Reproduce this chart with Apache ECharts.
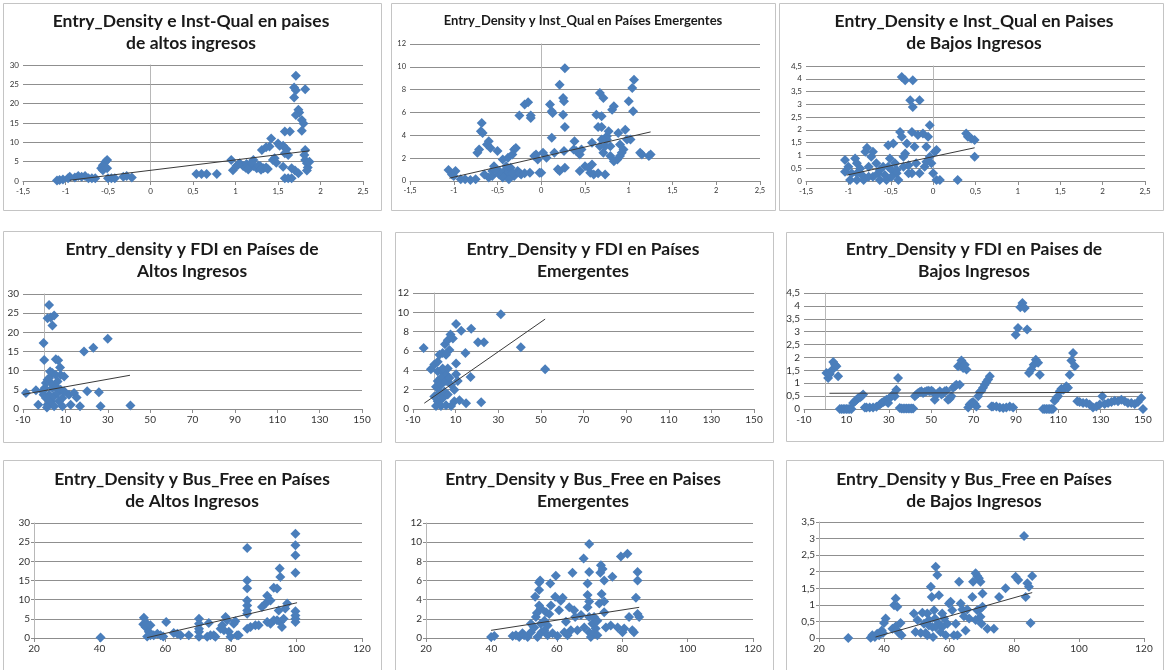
<!DOCTYPE html>
<html><head><meta charset="utf-8">
<script src="https://cdn.jsdelivr.net/npm/echarts@6/dist/echarts.min.js"></script>
<style>html,body{margin:0;padding:0;background:#fff}#c{width:1164px;height:670px}</style>
</head><body><div id="c"></div>
<script>
// ---------- DATA ----------
const titles = [
  'Entry_Density e Inst-Qual en paises\nde altos ingresos',
  'Entry_Density y Inst_Qual en Países Emergentes',
  'Entry_Density e Inst_Qual en Paises\nde Bajos Ingresos',
  'Entry_density y FDI en Países de\nAltos Ingresos',
  'Entry_Density y FDI en Países\nEmergentes',
  'Entry_Density y FDI en Paises de\nBajos Ingresos',
  'Entry_Density y Bus_Free en Países\nde Altos Ingresos',
  'Entry_Density y Bus_Free en Paises\nEmergentes',
  'Entry_Density y Bus_Free en Países\nde Bajos Ingresos'
];
const instQualXAxis = [-1.5, 2.5, 0.5];
const fdiXAxis = [-10, 150, 20];
const busFreeXAxis = [20, 120, 20];
const altosYAxis = [0, 30, 5];
const emergYAxis = [0, 12, 2];
const bajosYAxis = [0, 4.5, 0.5];
const bajosBusYAxis = [0, 3.5, 0.5];

const instQualAltos = [[-1.1,0.1],[-1.07,0.26],[-1.03,0.4],[-0.97,0.7],[-0.95,1.1],[-0.89,0.9],[-0.85,1.3],[-0.81,1.1],[-0.77,1.3],[-0.73,0.7],[-0.69,0.7],[-0.65,0.7],[-0.58,3.3],[-0.56,4.1],[-0.53,5.0],[-0.51,5.4],[-0.54,3.7],[-0.56,2.8],[-0.51,3.3],[-0.50,0.7],[-0.46,0.7],[-0.42,0.7],[-0.32,1.1],[-0.28,1.3],[-0.22,0.9],
[0.54,1.8],[0.60,1.8],[0.66,1.8],[0.78,1.8],[0.95,5.4],[0.97,2.8],[1.01,3.9],[1.05,4.6],[1.09,3.9],[1.13,4.4],[1.17,3.7],[1.21,3.9],[1.25,3.3],[1.29,3.9],[1.33,3.3],[1.36,3.5],[1.31,8.0],[1.36,8.7],[1.42,11.0],[1.40,8.9],[1.46,5.9],[1.48,4.7],[1.50,9.7],[1.52,9.1],[1.58,12.8],[1.64,12.8],[1.56,9.1],[1.58,7.2],[1.60,8.2],[1.62,6.7],[1.56,3.7],[1.58,0.7],[1.62,0.7],[1.66,0.7],[1.66,3.3],[1.70,2.7],[1.71,27.2],[1.69,24.2],[1.71,23.5],[1.69,21.6],[1.74,18.4],[1.75,17.7],[1.71,17.1],[1.78,15.8],[1.80,14.9],[1.78,13.0],[1.82,23.7],[1.82,8.0],[1.81,6.7],[1.82,5.4],[1.84,4.6],[1.85,3.5],[1.87,5.0],[1.84,2.7],[1.74,2.0],[1.44,5.4],[1.21,5.4],[1.03,4.2],[1.12,3.4],[1.19,4.8],[1.27,4.0],[1.30,2.9],[1.38,3.1],[1.15,3.0]];
const instQualEmerg = [[-1.06,0.96],[-1.02,0.58],[-0.98,0.87],[-1.0,0.44],[-0.92,0.15],[-0.87,0.15],[-0.81,0.09],[-0.75,0.15],[-0.73,2.47],[-0.71,2.76],[-0.69,4.36],[-0.68,5.09],[-0.67,4.2],[-0.62,3.2],[-0.60,3.49],[-0.58,2.9],[-0.60,0.3],[-0.56,0.44],[-0.54,1.3],[-0.50,2.62],[-0.48,0.58],[-0.44,1.89],[-0.42,0.87],[-0.40,0.44],[-0.38,2.03],[-0.37,0.73],[-0.35,1.16],[-0.33,2.33],[-0.31,2.76],[-0.29,2.9],[-0.31,0.44],[-0.27,0.87],[-0.25,5.73],[-0.23,0.58],[-0.19,6.69],[-0.15,6.89],[-0.12,5.73],[-0.12,5.52],[-0.13,0.73],[-0.08,2.18],[-0.06,2.33],[-0.04,1.89],[-0.02,0.73],[0,0.73],[0.02,2.47],[-0.48,0.87],[-0.44,0.3],[-0.37,0.15],[-0.56,0.87],[-0.65,0.58],[-0.52,0.96],[-0.40,1.3],[-0.33,0.73],[-0.25,0.73],[-0.19,0.67],
[0.06,2.03],[0.10,6.69],[0.12,6.1],[0.13,5.96],[0.12,3.78],[0.15,2.47],[0.19,1.02],[0.21,8.43],[0.21,0.87],[0.25,7.27],[0.26,6.98],[0.25,5.81],[0.27,4.74],[0.27,9.88],[0.26,2.62],[0.27,1.16],[0.37,2.76],[0.38,3.49],[0.40,2.62],[0.44,2.33],[0.44,0.87],[0.46,2.76],[0.50,1.3],[0.54,1.16],[0.56,0.73],[0.58,1.45],[0.60,0.58],[0.58,3.34],[0.63,5.81],[0.65,4.74],[0.65,0.67],[0.69,5.67],[0.69,4.74],[0.67,7.7],[0.71,7.27],[0.73,0.58],[0.71,2.47],[0.73,3.05],[0.75,3.92],[0.77,4.36],[0.79,2.18],[0.81,6.25],[0.83,6.54],[0.75,3.63],[0.69,3.63],[0.67,3.05],[0.87,1.89],[0.88,4.2],[0.90,3.2],[0.92,2.47],[0.94,2.76],[0.96,4.5],[0.98,3.63],[1.0,6.98],[1.02,3.63],[1.04,8.14],[1.06,8.87],[1.05,6.1],[1.13,2.47],[1.15,2.33],[1.23,2.18],[1.25,2.33],[0.79,3.05],[0.83,1.74],[0.9,2.18]];
const instQualBajos = [[-1.04,0.82],[-1.04,0.36],[-1.0,0.56],[-0.98,0.04],[-0.96,0.3],[-0.92,0.88],[-0.90,0.69],[-0.90,0.04],[-0.86,0.49],[-0.84,0.23],[-0.82,0.04],[-0.80,1.14],[-0.78,1.3],[-0.76,0.56],[-0.73,0.95],[-0.71,1.14],[-0.71,0.17],[-0.67,0.69],[-0.65,0.3],[-0.63,0.04],[-0.59,0.56],[-0.57,0.23],[-0.55,0.04],[-0.53,1.4],[-0.51,0.88],[-0.49,0.43],[-0.47,1.47],[-0.45,0.69],[-0.43,0.3],[-0.41,0.04],[-0.39,1.92],[-0.37,1.73],[-0.37,4.07],[-0.33,3.94],[-0.35,0.56],[-0.33,1.08],[-0.31,1.47],[-0.29,0.3],[-0.27,3.16],[-0.25,1.92],[-0.24,3.94],[-0.24,2.9],[-0.22,1.34],[-0.20,0.69],[-0.18,1.8],[-0.16,3.16],[-0.16,0.3],[-0.12,1.86],[-0.10,0.56],[-0.08,1.34],[-0.06,1.73],[-0.04,2.18],[-0.04,0.95],[-0.02,0.69],[0.02,1.14],[0.04,1.21],[0,0.3],[0.04,0.04],[0.08,0.04],[0.29,0.04],[0.39,1.86],[0.41,1.73],[0.45,1.66],[0.49,1.6],[0.49,0.95],[-0.63,0.43],[-0.53,0.56],[-0.43,0.43],[-0.29,0.62],[-0.25,0.3],[-0.49,0.17],[-0.76,0.17],[-0.9,0.3],[-0.35,0.95],[-0.08,0.75]];
const fdiAltos = [[2.3,27.1],[1.6,23.7],[3.1,23.9],[4.7,24.4],[3.9,21.8],[-0.3,17.2],[0,12.8],[5.5,13.0],[6.6,12.7],[7.5,10.8],[2.8,9.8],[3.9,9.4],[5.5,8.9],[7.8,8.9],[1.6,7.6],[0.8,6.8],[18.8,15.0],[23.2,16.0],[30.0,18.3],[20.3,4.6],[25.8,4.4],[40.7,0.9],[26.6,0.7],[16.9,0.7],[12.5,1.1],[11.7,3.7],[14.1,4.2],[15.3,3.0],[-2.8,1.1],[-3.9,4.9],[-8.6,4.2],[-0.8,4.6],[0.8,2.9],[1.6,1.1],[2.3,3.7],[3.1,2.0],[3.9,5.5],[4.7,3.3],[5.5,5.9],[6.3,4.2],[7.0,2.0],[7.8,5.0],[8.6,2.9],[8.6,0.7],[4.7,0.7],[1.3,0.4],[0.3,5.5],[-0.3,3.7],[3.1,6.8],[2.3,8.1],[6.3,7.2],[9.4,4.6],[9.4,8.5]];
const fdiEmerg = [[-5.0,6.3],[-1.6,4.1],[0,4.6],[1.6,4.9],[2.4,5.6],[3.9,5.8],[5.0,6.7],[6.3,7.1],[7.6,7.7],[8.7,7.3],[7.1,6.1],[5.5,5.6],[10.2,8.8],[12.6,8.1],[17.3,8.3],[14.6,5.8],[10.2,4.7],[20.5,6.9],[23.3,6.9],[31.2,9.8],[40.6,6.4],[52.0,4.1],[17.0,3.3],[11.0,2.9],[9.4,2.0],[7.9,2.5],[6.3,3.4],[4.7,3.7],[3.1,3.2],[1.6,2.9],[0.8,2.3],[0,1.3],[1.6,0.8],[3.1,0.3],[5.5,0.4],[7.9,0.3],[9.4,0.8],[11.8,0.9],[14.9,0.6],[22.0,0.7],[2.4,1.7],[3.9,1.1],[4.7,1.8],[6.3,1.5],[3.1,2.5],[5.5,2.9],[7.1,3.2],[10.2,3.6],[1.6,3.9],[3.9,4.2],[6.3,4.2],[0.8,0.3]];
const fdiBajos = [[0.6,1.4],[1.4,1.2],[2.2,1.36],[3.0,1.49],[3.8,1.82],[4.6,1.72],[5.3,1.66],[6.1,1.27],[6.9,0],[7.7,0],[8.5,0],[9.3,0],[10.1,0],[10.8,0],[11.6,0],[12.4,0],[13.2,0.23],[14,0.3],[14.8,0.36],[15.6,0.43],[16.4,0.45],[17.1,0.49],[17.9,0.56],[18.7,0.06],[19.5,0.06],[21,0.06],[22.6,0.06],[24.2,0.09],[25.8,0.17],[26.6,0.23],[27.4,0.27],[28.1,0.3],[28.9,0.36],[29.7,0.23],[30.5,0.43],[31.3,0.49],[32.1,0.56],[32.9,0.49],[33.6,0.75],[34.4,1.2],[35.2,0.04],[36,0.02],[36.8,0.02],[37.6,0.02],[38.4,0.02],[39.2,0.02],[40,0.02],[40.8,0.02],[41.5,0.02],[42.3,0.49],[43.1,0.56],[43.9,0.62],[44.7,0.66],[45.4,0.69],[46.2,0.62],[47,0.66],[47.8,0.69],[48.6,0.71],[49.4,0.69],[50.2,0.71],[50.9,0.66],[51.7,0.36],[52.5,0.56],[53.3,0.62],[54.1,0.69],[54.9,0.56],[55.7,0.62],[56.4,0.69],[57.2,0.71],[58,0.36],[58.8,0.4],[59.6,0.49],[60.4,0.82],[61.2,0.88],[61.9,0.94],[62.7,1.66],[63.5,0.94],[64.3,1.88],[65.1,1.59],[65.9,1.72],[66.7,1.53],[67.5,0.06],[68.2,0.17],[69,0.23],[69.8,0.27],[70.6,0.19],[71.4,0.1],[72.2,0.49],[73,0.66],[73.7,0.71],[74.5,0.82],[75.3,0.94],[76.1,1.05],[76.9,1.14],[77.7,1.27],[78.5,0.1],[79.2,0.1],[80.8,0.1],[82.4,0.06],[84,0.04],[85.5,0.06],[87.1,0.1],[88.7,0.06],[89.9,2.88],[91,3.14],[92.1,3.95],[93.1,4.11],[94.2,3.92],[95.3,3.08],[96.2,1.4],[97.3,1.53],[98.4,1.72],[99.4,1.91],[100.5,1.79],[101.3,1.33],[102.8,0],[103.6,0],[104.4,0],[105.2,0],[106,0],[106.7,0],[107.5,0],[108.3,0.32],[109.1,0.43],[109.9,0.49],[110.7,0.69],[111.5,0.79],[112.3,0.75],[113,0.79],[113.8,0.88],[114.6,0.82],[115.4,1.33],[116.2,1.88],[117,2.17],[117.8,1.66],[119,0.3],[120.1,0.27],[121.7,0.23],[123.3,0.23],[124.8,0.17],[126.4,0.06],[128,0.1],[129.6,0.17],[130.8,0.49],[131.9,0.19],[133.5,0.23],[135.1,0.27],[136.6,0.32],[138.2,0.3],[139.8,0.36],[141.4,0.3],[142.9,0.23],[144.5,0.23],[146.1,0.19],[147.6,0.27],[149.2,0.43],[150,0]];
const busFreeAltos = [[40.3,0.1],[53.5,5.3],[53.3,3.6],[54.0,2.9],[54.5,3.7],[54.5,0.4],[55.0,1.6],[55.5,0.7],[55.5,3.3],[56.5,0.7],[57.6,1.1],[58.6,0.7],[59.4,0.4],[60.3,4.2],[62.6,1.3],[63.7,1.1],[64.7,0.7],[67.2,0.7],[70.3,5.0],[70.3,3.7],[70.3,2.4],[70.3,1.6],[70.3,0.3],[72.8,0.3],[73.3,3.9],[73.8,0.7],[74.8,0.7],[75.3,0.3],[76.9,2.4],[77.4,3.3],[77.9,2.0],[78.4,5.5],[78.9,4.6],[79.4,1.6],[79.9,0.3],[80.9,3.7],[81.4,4.4],[81.9,0.7],[82.4,0.7],[85.0,23.5],[85.0,15.0],[85.0,13.0],[85.0,9.8],[85.0,8.5],[85.0,7.2],[85.0,6.3],[85.0,2.4],[86.0,2.9],[87.5,3.3],[88.5,3.3],[89.5,8.1],[90.6,9.0],[91.1,11.0],[91.1,4.2],[92.1,9.8],[93.1,13.1],[94.1,12.9],[94.6,7.2],[94.9,18.1],[95.1,15.9],[95.1,4.2],[95.6,2.9],[96.1,5.0],[96.6,7.7],[97.2,9.0],[99.7,27.2],[99.7,24.2],[99.7,21.6],[99.7,17.0],[99.7,7.0],[99.7,5.9],[99.7,5.0],[99.7,4.2],[94.1,4.6],[93.1,4.6],[92.1,3.7]];
const busFreeEmerg = [[39.9,0.1],[40.9,0.2],[46.5,0.2],[47.5,0.3],[48.5,0.1],[49.5,0.5],[50.0,0.3],[51.1,0.1],[52.1,0.6],[53.1,1.1],[53.4,4.3],[53.6,2.2],[53.9,2.6],[54.1,0.1],[54.6,5.8],[54.9,6.0],[54.6,5.0],[54.6,3.4],[55.1,3.1],[55.1,1.5],[55.3,0.6],[56.2,1.8],[56.7,2.7],[57.2,1.3],[57.7,2.5],[58.0,5.7],[58.2,3.4],[58.7,0.5],[59.5,4.3],[59.7,6.5],[60.2,0.2],[60.7,2.9],[61.2,3.9],[61.8,4.2],[62.3,0.6],[62.8,1.7],[63.8,3.2],[64.3,0.8],[64.8,6.8],[65.3,2.9],[65.6,2.2],[66.3,0.8],[67.4,2.4],[68.2,8.3],[68.4,1.1],[69.4,3.2],[69.4,5.7],[69.4,4.5],[69.9,9.8],[69.9,6.9],[69.9,3.8],[69.9,2.2],[69.9,0.6],[70.4,0.1],[70.9,1.5],[71.4,0.5],[71.9,1.0],[72.4,0.3],[73.0,3.6],[73.3,6.8],[73.5,7.6],[73.7,4.6],[74.0,7.2],[74.5,6.0],[74.5,3.8],[74.5,2.7],[75.0,1.1],[77.0,6.4],[76.5,1.3],[78.6,1.1],[79.6,8.5],[80.1,0.6],[80.6,1.0],[81.6,8.8],[82.1,2.2],[83.1,0.8],[83.6,0.6],[84.2,4.2],[84.7,6.9],[84.7,6.0],[84.7,2.5],[85.2,2.2],[52.1,1.5],[56.2,0.8],[57.2,0.3],[63.3,0.3],[71.4,2.2],[72.4,1.8]];
const busFreeBajos = [[29.0,0],[35.9,0.01],[36.4,0.08],[37.2,0.03],[37.9,0.13],[38.5,0.08],[39.3,0.23],[39.7,0.15],[40.0,0.45],[40.5,0.59],[42.6,0.28],[43.1,0.99],[43.6,1.19],[44.1,0.94],[44.6,0.15],[45.1,0.45],[45.4,0.08],[43.6,0.35],[44.1,0.23],[49.2,0.74],[49.7,0.18],[50.3,0.54],[51.3,0.15],[51.8,0.76],[52.3,0.43],[52.8,0.15],[53.3,0.74],[53.8,0.38],[54.4,1.55],[54.7,1.24],[54.9,0.33],[55.1,0.03],[55.4,0.84],[55.7,0.59],[55.9,2.15],[56.4,1.9],[56.9,1.29],[56.9,0.43],[57.4,0.18],[57.9,0.74],[58.5,0.59],[59.0,0.08],[59.5,0.43],[60.0,1.04],[60.5,1.09],[61.0,0.84],[61.5,0.08],[62.6,0.08],[63.1,1.7],[63.6,1.04],[64.1,0.86],[64.6,0.66],[65.1,0.23],[65.6,0.86],[66.2,0.59],[67.2,1.24],[67.4,1.7],[68.2,1.95],[68.7,1.87],[69.2,1.8],[69.7,1.7],[70.3,1.34],[69.4,0.86],[69.7,0.64],[70.0,0.43],[68.2,0.54],[68.7,0.84],[70.3,0.94],[71.8,0.28],[73.8,0.28],[75.4,1.24],[77.4,1.5],[80.5,1.85],[81.3,1.75],[83.6,1.24],[83.1,3.08],[84.1,1.65],[84.6,1.55],[85.6,1.87],[85.1,0.45],[53.3,0.08],[53.8,0.54],[55.9,0.33],[57.9,0.33],[62.1,0.43]];

const trendInstQualAltos = [[-0.95,0.2],[1.87,7.8]];
const trendInstQualEmerg = [[-1.05,0.25],[1.25,4.3]];
const trendInstQualBajos = [[-1.02,0.23],[0.49,1.3]];
const trendFdiAltos = [[-10,3.8],[40.5,8.8]];
const trendFdiEmerg = [[-4.7,0.6],[52,9.3]];
const trendFdiBajos = [[2,0.61],[150,0.65]];
const trendBusFreeAltos = [[54.5,0.1],[100.2,9.2]];
const trendBusFreeEmerg = [[39.9,0.8],[85.2,3.2]];
const trendBusFreeBajos = [[37.4,0.03],[85.6,1.37]];

// ---------- LAYOUT ----------
const panels = [
  {pts: instQualAltos, tr: trendInstQualAltos, xa: instQualXAxis, ya: altosYAxis, g:[23,65,340,116], t:[191,10], fs:17.5, lab:8, box:[3,3,378,207]},
  {pts: instQualEmerg, tr: trendInstQualEmerg, xa: instQualXAxis, ya: emergYAxis, g:[410,44,350,137], t:[583,13], fs:13, lab:7.5, box:[391,3,384,207]},
  {pts: instQualBajos, tr: trendInstQualBajos, xa: instQualXAxis, ya: bajosYAxis, g:[806,66,339,115], t:[974,10], fs:17.5, lab:8, box:[779,3,384,207]},
  {pts: fdiAltos, tr: trendFdiAltos, xa: fdiXAxis, ya: altosYAxis, g:[23,294,339,115], t:[192,238], fs:17.5, lab:10, box:[3,231,378,211]},
  {pts: fdiEmerg, tr: trendFdiEmerg, xa: fdiXAxis, ya: emergYAxis, g:[413,293,341,116], t:[583,238], fs:17.5, lab:10, box:[395,232,378,210]},
  {pts: fdiBajos, tr: trendFdiBajos, xa: fdiXAxis, ya: bajosYAxis, g:[804,293,339,116], t:[974,238], fs:17.5, lab:10, box:[786,232,377,209]},
  {pts: busFreeAltos, tr: trendBusFreeAltos, xa: busFreeXAxis, ya: altosYAxis, g:[34,523,328,115], t:[192,468], fs:17.5, lab:10, box:[3,460,378,215]},
  {pts: busFreeEmerg, tr: trendBusFreeEmerg, xa: busFreeXAxis, ya: emergYAxis, g:[426,523,327,115], t:[583,468], fs:17.5, lab:10, box:[395,460,378,215]},
  {pts: busFreeBajos, tr: trendBusFreeBajos, xa: busFreeXAxis, ya: bajosBusYAxis, g:[819,522,325,116], t:[974,468], fs:17.5, lab:10, box:[786,460,377,215]}
];

const fmt = v => String(v).replace('.', ',');
const grids = [], xAxes = [], yAxes = [], series = [], titleArr = [], graphics = [];
panels.forEach((p, i) => {
  grids.push({left: p.g[0], top: p.g[1], width: p.g[2], height: p.g[3], containLabel: false});
  xAxes.push({
    type: 'value', gridIndex: i, min: p.xa[0], max: p.xa[1], interval: p.xa[2],
    axisLine: {show: true, onZero: true, lineStyle: {color: '#8c8c8c', width: 1}},
    axisTick: {show: true, length: 4, inside: false, lineStyle: {color: '#8c8c8c'}},
    axisLabel: {fontSize: p.lab, color: '#333', fontFamily: 'Lato', margin: 6, formatter: fmt},
    splitLine: {show: false}
  });
  yAxes.push({
    type: 'value', gridIndex: i, min: p.ya[0], max: p.ya[1], interval: p.ya[2],
    axisLine: {show: true, onZero: true, lineStyle: {color: '#b8b8b8', width: 1}},
    axisTick: {show: true, length: 3, inside: false, lineStyle: {color: '#8c8c8c'}},
    axisLabel: {fontSize: p.lab, color: '#333', fontFamily: 'Lato', margin: 4, formatter: fmt},
    splitLine: {show: true, lineStyle: {color: '#8f8f8f', width: 1}}
  });
  series.push({
    type: 'scatter', xAxisIndex: i, yAxisIndex: i, data: p.pts,
    symbol: 'diamond', symbolSize: 10, itemStyle: {color: '#4a7ebb', opacity: 1}, z: 3, silent: true
  });
  series.push({
    type: 'line', xAxisIndex: i, yAxisIndex: i, data: p.tr, symbol: 'none',
    lineStyle: {color: '#3a3a3a', width: 1}, z: 4, silent: true, animation: false
  });
  titleArr.push({
    text: titles[i], left: p.t[0], top: p.t[1], textAlign: 'center', padding: 0,
    textStyle: {fontFamily: 'Lato', fontWeight: 'bold', fontSize: p.fs, lineHeight: p.fs > 15 ? 22 : 16, color: '#1a1a1a'}
  });
  graphics.push({
    type: 'rect', z: -10, silent: true,
    shape: {x: p.box[0] + 0.5, y: p.box[1] + 0.5, width: p.box[2], height: p.box[3]},
    style: {fill: 'none', stroke: '#c4c4c4', lineWidth: 1}
  });
});

const chart = echarts.init(document.getElementById('c'), null, {renderer: 'canvas'});
chart.setOption({
  backgroundColor: '#ffffff',
  animation: false,
  title: titleArr,
  grid: grids,
  xAxis: xAxes,
  yAxis: yAxes,
  series: series,
  graphic: graphics
});
</script></body></html>
